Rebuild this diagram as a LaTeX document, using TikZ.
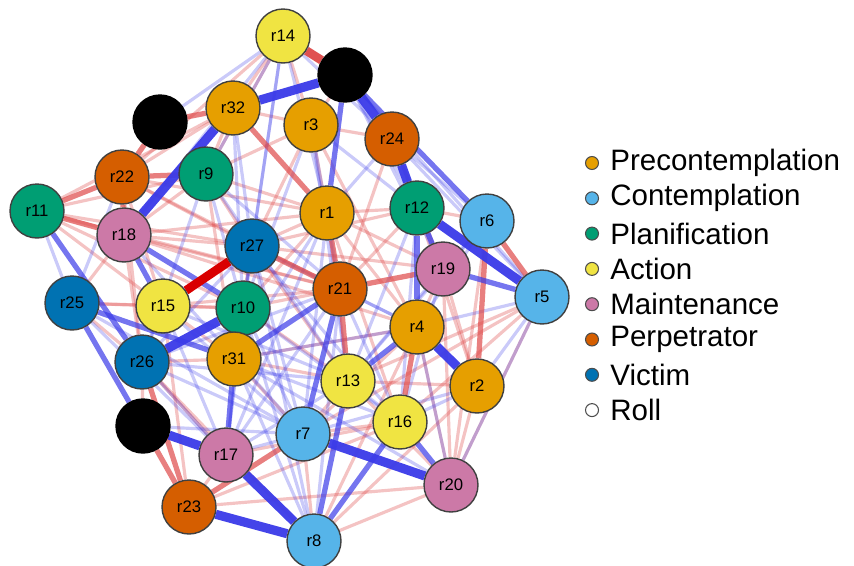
\documentclass[tikz,border=0pt]{standalone}
\usepackage{fontspec}
\setmainfont{Liberation Sans}
\pgfdeclarelayer{bg}
\pgfsetlayers{bg,main}
\definecolor{precont}{HTML}{E69F00}
\definecolor{cont}{HTML}{56B4E9}
\definecolor{planif}{HTML}{009E73}
\definecolor{action}{HTML}{F0E442}
\definecolor{mainten}{HTML}{CC79A7}
\definecolor{perp}{HTML}{D55E00}
\definecolor{victim}{HTML}{0072B2}
\definecolor{posline}{RGB}{222,72,72}
\definecolor{negline}{RGB}{58,58,232}
\tikzset{
	rnode/.style={circle,draw=black!75,line width=0.8pt,minimum size=1.08cm,inner sep=0pt,font=\fontsize{9.5}{10}\selectfont},
	rollnode/.style={rnode,fill=black,draw=black},
	key/.style={circle,draw=black!70,line width=0.6pt,minimum size=0.26cm,inner sep=0pt},
	keytext/.style={anchor=west,inner sep=0pt,font=\fontsize{16.8}{18}\selectfont},
	pfaint/.style={posline,opacity=0.33,line width=1.8pt},
	nfaint/.style={negline,opacity=0.27,line width=1.8pt},
	pmid/.style={posline,opacity=0.7,line width=3pt},
	nmid/.style={negline,opacity=0.7,line width=3pt},
	pstrong/.style={posline,opacity=0.95,line width=5pt},
	nstrong/.style={negline,opacity=0.95,line width=5.2pt}
}
\begin{document}
\begin{tikzpicture}[x=0.02cm,y=-0.02cm]
	\useasboundingbox (0,0) rectangle (854,565);
	
	\node[rnode,fill=action] (r14) at (283,36) {r14};
	\node[rollnode] (b1) at (345,75) {};
	\node[rnode,fill=precont] (r32) at (233,108) {r32};
	\node[rollnode] (b2) at (160,122) {};
	\node[rnode,fill=precont] (r3) at (311,125) {r3};
	\node[rnode,fill=perp] (r24) at (392,139) {r24};
	\node[rnode,fill=perp] (r22) at (122,177) {r22};
	\node[rnode,fill=planif] (r9) at (206,174) {r9};
	\node[rnode,fill=precont] (r1) at (327,213) {r1};
	\node[rnode,fill=planif] (r12) at (417,208) {r12};
	\node[rnode,fill=planif] (r11) at (37,211) {r11};
	\node[rnode,fill=cont] (r6) at (487,221) {r6};
	\node[rnode,fill=mainten] (r18) at (124,235) {r18};
	\node[rnode,fill=victim] (r27) at (252,246) {r27};
	\node[rnode,fill=mainten] (r19) at (443,269) {r19};
	\node[rnode,fill=perp] (r21) at (340,289) {r21};
	\node[rnode,fill=cont] (r5) at (542,297) {r5};
	\node[rnode,fill=victim] (r25) at (72,303) {r25};
	\node[rnode,fill=action] (r15) at (163,306) {r15};
	\node[rnode,fill=planif] (r10) at (243,308) {r10};
	\node[rnode,fill=precont] (r4) at (417,327) {r4};
	\node[rnode,fill=victim] (r26) at (142,362) {r26};
	\node[rnode,fill=precont] (r31) at (234,359) {r31};
	\node[rnode,fill=action] (r13) at (348,381) {r13};
	\node[rnode,fill=precont] (r2) at (477,386) {r2};
	\node[rollnode] (b3) at (143,426) {};
	\node[rnode,fill=action] (r16) at (400,422) {r16};
	\node[rnode,fill=cont] (r7) at (303,434) {r7};
	\node[rnode,fill=mainten] (r17) at (226,455) {r17};
	\node[rnode,fill=mainten] (r20) at (451,485) {r20};
	\node[rnode,fill=perp] (r23) at (189,507) {r23};
	\node[rnode,fill=cont] (r8) at (314,541) {r8};
	
	\begin{pgfonlayer}{bg}
	\draw[pfaint] (r14) edge (r32) (r14) edge (r9) (r14) edge (r22) (r14) edge (r3)
	(r32) edge (r3) (r32) edge (r22) (r32) edge (r11) (r32) edge (r9)
	(r3) edge (r1) (r3) edge (r24) (r3) edge (r9) (r3) edge (r27) (b1) edge (r3)
	(r9) edge (r18) (r9) edge (r1) (r9) edge (r27) (r9) edge (r11) (r9) edge (r31)
	(r22) edge (r15) (r22) edge (r27) (r22) edge (r1) (r22) edge (r26) (r22) edge (r21)
	(r11) edge (r27) (r11) edge (r15) (r11) edge (r10) (r11) edge (r21)
	(r18) edge (r27) (r18) edge (r21) (r18) edge (r26) (r18) edge (r1) (r18) edge (r4)
	(r25) edge (r18) (r25) edge (r15) (r25) edge (r26) (r25) edge (r10)
	(r27) edge (r1) (r27) edge (r12) (r27) edge (r31) (r27) edge (r13) (r27) edge (r19)
	(r1) edge (r19) (r1) edge (r4) (r1) edge (r10) (r1) edge (r12) (r1) edge (r16)
	(r12) edge (r21) (r12) edge (r2) (r12) edge (r6) (r24) edge (r19) (r24) edge (r21)
	(r19) edge (r2) (r19) edge (r20) (r19) edge (r4) (r3) edge (r4)
	(r5) edge (r20) (r5) edge (r16) (r5) edge (r13) (r6) edge (r20) (r5) edge (r7)
	(r2) edge (r20) (r2) edge (r13) (r2) edge (r8)
	(r4) edge (r20) (r4) edge (r7) (r4) edge (r8) (r4) edge (r31)
	(r13) edge (r7) (r13) edge (r20) (r16) edge (r7) (r16) edge (r17)
	(r31) edge (r7) (r31) edge (r13) (r10) edge (r21) (r10) edge (r13)
	(r15) edge (r31) (r15) edge (r10) (r15) edge (r23) (r15) edge (r21)
	(r26) edge (r17) (r26) edge (r31) (b3) edge (r26) (r26) edge (r8)
	(r17) edge (r23) (r23) edge (r20) (r8) edge (r20) (r7) edge (r8) (r23) edge (r16);
	
	\draw[nfaint] (r14) edge (b2) (r14) edge (r1) (r14) edge (r24) (r14) edge (r27)
	(r14) edge (r18) (r14) edge (r10) (r14) edge (r9)
	(b1) edge (r12) (b1) edge (r19) (b1) edge (r5) (r24) edge (r6) (r24) edge (r1)
	(r24) edge (r19) (r24) edge (r5)
	(r3) edge (r12) (r3) edge (r21) (r3) edge (r10) (r3) edge (r13)
	(r32) edge (r27) (r32) edge (r10)
	(r9) edge (r21) (r9) edge (r10) (r9) edge (r26) (r9) edge (r13)
	(r22) edge (r25) (r11) edge (r25)
	(r27) edge (r10) (r27) edge (r4) (r27) edge (r16) (r27) edge (r26) (r27) edge (r17)
	(r27) edge (r7) (r27) edge (r8)
	(r1) edge (r13) (r1) edge (r31) (r1) edge (r7) (r1) edge (r17)
	(r12) edge (r13) (r12) edge (r16) (r6) edge (r19) (r6) edge (r4) (r6) edge (r13)
	(r19) edge (r16) (r19) edge (r13)
	(r21) edge (r4) (r21) edge (r16) (r21) edge (r26) (r21) edge (r17) (r21) edge (r8)
	(r10) edge (r31) (r10) edge (r7) (r10) edge (r16) (r10) edge (r17) (r10) edge (r8)
	(r15) edge (r26) (r15) edge (r17) (r15) edge (r7) (r15) edge (r13)
	(r31) edge (r8) (r31) edge (r16) (r31) edge (r20) (r31) edge (r4)
	(r26) edge (r7) (r26) edge (r17) (r26) edge (r13) (b3) edge (r7) (r18) edge (r7)
	(r25) edge (r17) (r25) edge (r7)
	(r13) edge (r16) (r13) edge (r17) (r5) edge (r4) (r5) edge (r20) (r5) edge (r2)
	(r2) edge (r16) (r2) edge (r7) (r7) edge (r17) (r4) edge (r20);
	
	\draw[pmid] (r32) edge (r1) (r27) edge (r21) (r21) edge (r19) (r6) edge (r5)
	(r22) edge (r11) (r11) edge (r18) (r2) edge (r6) (r4) edge (r16)
	(r21) edge (r13) (r22) edge (b2) (r18) edge (r22) (r26) edge (r23)
	(b3) edge (r23) (r23) edge (r7) (r1) edge (r21) (r9) edge (r22) (b2) edge (r32);
	
	\draw[nmid] (b1) edge (r1) (r21) edge (r7) (r13) edge (r8) (r16) edge (r8)
	(r31) edge (r17) (r16) edge (r20) (r4) edge (r13) (r12) edge (r19)
	(r18) edge (r10) (r18) edge (r15) (r25) edge (r31) (r31) edge (r21)
	(r11) edge (r26) (r25) edge (b3) (r12) edge (r4) (r19) edge (r5) (b1) edge (r6);
	
	\draw[pstrong] (r14) edge (b1);
	\draw[pstrong,red!85!black,opacity=1] (r15) edge (r27);
	
	\draw[nstrong] (r32) edge (b1) (b1) edge (r24) (r24) edge (r12) (r12) edge (r5)
	(b3) edge (r17) (r17) edge (r8) (r23) edge (r8) (r7) edge (r20)
	(r4) edge (r2) (r10) edge (r26) (r32) edge (r18);
	\end{pgfonlayer}
	
	\node[key,fill=precont] (k1) at (592,163) {};
	\node[key,fill=cont] (k2) at (592,198.3) {};
	\node[key,fill=planif] (k3) at (592,233.6) {};
	\node[key,fill=action] (k4) at (592,268.9) {};
	\node[key,fill=mainten] (k5) at (592,304.2) {};
	\node[key,fill=perp] (k6) at (592,339.5) {};
	\node[key,fill=victim] (k7) at (592,374.8) {};
	\node[key,fill=white] (k8) at (592,410.1) {};
	\node[keytext] at (610,163) {Precontemplation};
	\node[keytext] at (610,198.3) {Contemplation};
	\node[keytext] at (610,233.6) {Planification};
	\node[keytext] at (610,268.9) {Action};
	\node[keytext] at (610,304.2) {Maintenance};
	\node[keytext] at (610,339.5) {Perpetrator};
	\node[keytext] at (610,374.8) {Victim};
	\node[keytext] at (610,410.1) {Roll};
\end{tikzpicture}
\end{document}
